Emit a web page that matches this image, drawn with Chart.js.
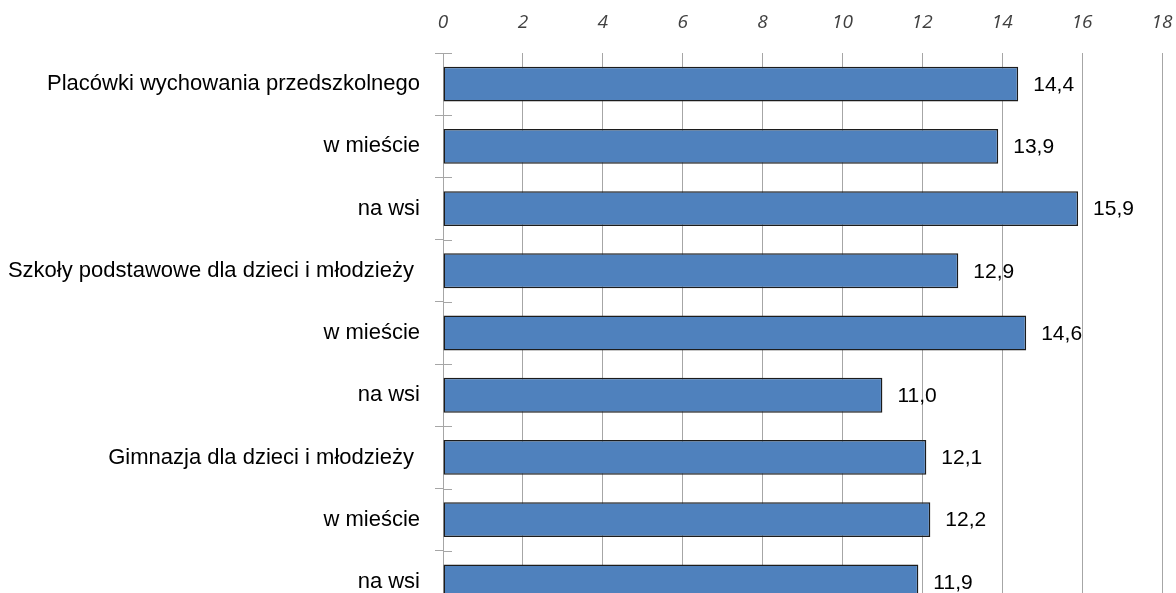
<!DOCTYPE html>
<html>
<head>
<meta charset="utf-8">
<script src="https://cdn.jsdelivr.net/npm/chart.js@4/dist/chart.umd.min.js"></script>
<style>
  html, body { margin: 0; padding: 0; background: #fff; overflow: hidden; }
  #c { display: block; }
</style>
</head>
<body>
<canvas id="c" width="1176" height="613"></canvas>
<script>
const categories = [
  "Placówki wychowania przedszkolnego",
  "w mieście",
  "na wsi",
  "Szkoły podstawowe dla dzieci i młodzieży ",
  "w mieście",
  "na wsi",
  "Gimnazja dla dzieci i młodzieży ",
  "w mieście",
  "na wsi"
];
const values = [14.4, 13.9, 15.9, 12.9, 14.6, 11.0, 12.1, 12.2, 11.9];
const xTicks = [0, 2, 4, 6, 8, 10, 12, 14, 16, 18];

const valueLabels = {
  id: 'valueLabels',
  afterDatasetsDraw(chart) {
    const ctx = chart.ctx;
    const meta = chart.getDatasetMeta(0);
    ctx.save();
    ctx.font = '21px "Liberation Sans", Arial, sans-serif';
    ctx.fillStyle = '#000';
    ctx.textAlign = 'left';
    ctx.textBaseline = 'middle';
    meta.data.forEach((bar, i) => {
      ctx.fillText(values[i].toFixed(1).replace('.', ','), bar.x + 15, bar.y + 1);
    });
    ctx.restore();
  }
};

const crossTicks = {
  id: 'crossTicks',
  afterDraw(chart) {
    const ys = chart.scales.y;
    const ctx = chart.ctx;
    const x0 = ys.right;
    ctx.save();
    ctx.strokeStyle = '#a6a6a6';
    ctx.lineWidth = 1;
    const n = categories.length;
    for (let i = 0; i <= n; i++) {
      let y;
      if (i === 0) y = ys.top;
      else if (i === n) y = ys.bottom;
      else y = (ys.getPixelForTick(i - 1) + ys.getPixelForTick(i)) / 2;
      y = Math.round(y) + 0.5;
      ctx.beginPath();
      ctx.moveTo(x0, y);
      ctx.lineTo(x0 + 9, y);
      ctx.stroke();
    }
    ctx.restore();
  }
};

new Chart(document.getElementById('c'), {
  type: 'bar',
  data: {
    labels: categories,
    datasets: [{
      data: values,
      backgroundColor: '#4f81bd',
      borderColor: '#1c1c1c',
      borderWidth: 1.5,
      borderSkipped: false,
      barPercentage: 0.56,
      categoryPercentage: 1.0
    }]
  },
  options: {
    indexAxis: 'y',
    responsive: false,
    animation: false,
    layout: { padding: { left: 0, right: 14, top: 0, bottom: 0 } },
    plugins: {
      legend: { display: false },
      tooltip: { enabled: false }
    },
    scales: {
      x: {
        position: 'top',
        min: 0,
        max: 18,
        afterBuildTicks(scale) { scale.ticks = xTicks.map(v => ({ value: v })); },
        afterFit(scale) {
          scale.height = 53;
          scale.paddingLeft = 0; scale.paddingRight = 0;
          scale.paddingTop = 0; scale.paddingBottom = 0;
        },
        grid: { color: '#a6a6a6', lineWidth: 1, drawTicks: false },
        border: { display: false },
        ticks: {
          padding: 19,
          color: '#404040',
          font: { family: '"Open Sans", "DejaVu Sans", sans-serif', size: 19, style: 'italic' }
        }
      },
      y: {
        afterFit(scale) {
          scale.width = 443;
          scale.paddingLeft = 0; scale.paddingRight = 0;
          scale.paddingTop = 0; scale.paddingBottom = 0;
        },
        grid: { offset: true, drawOnChartArea: false, drawTicks: true, tickLength: 8, color: '#a6a6a6' },
        border: { display: true, color: '#a6a6a6', width: 1 },
        ticks: {
          padding: 15,
          color: '#000',
          autoSkip: false,
          font: { family: '"Liberation Sans", Arial, sans-serif', size: 22 }
        }
      }
    }
  },
  plugins: [valueLabels, crossTicks]
});
</script>
</body>
</html>
